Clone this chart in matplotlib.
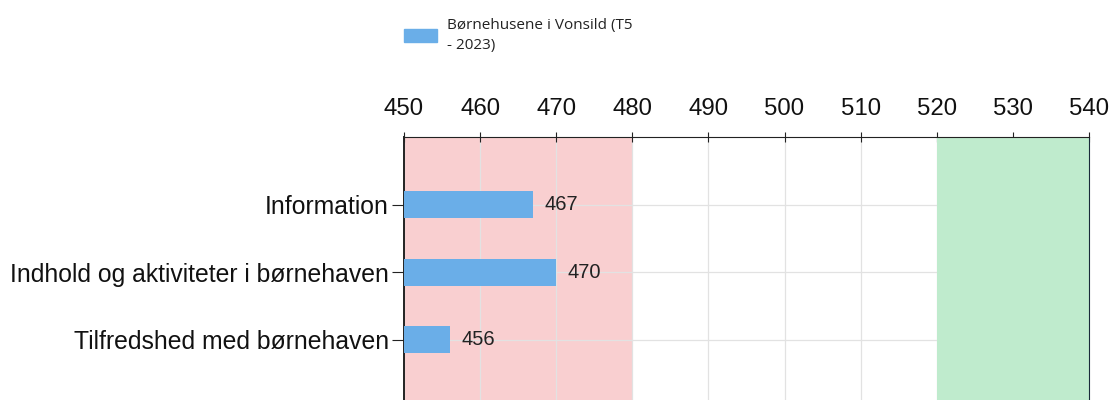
import numpy as np
import matplotlib.pyplot as plt
from matplotlib.patches import Patch

categories = ["Information", "Indhold og aktiviteter i børnehaven", "Tilfredshed med børnehaven"]
values = [467, 470, 456]
series_name = "Børnehusene i Vonsild (T5\n- 2023)"
x_ticks = [450, 460, 470, 480, 490, 500, 510, 520, 530, 540]
red_band = (450, 480)
green_band = (520, 540)

bar_color = "#6aaee8"
plt.rcParams['font.family'] = ['Liberation Sans', 'DejaVu Sans']

fig = plt.figure(figsize=(11.13, 4.0), dpi=100)
ax = fig.add_axes([404 / 1113, 0, (1089 - 404) / 1113, 1 - 137 / 400])

ax.axvspan(*red_band, color="#f9cfd0", zorder=0, lw=0)
ax.axvspan(*green_band, color="#bfebcd", zorder=2, lw=0)

pos = np.arange(len(categories))
ax.barh(pos, [v - x_ticks[0] for v in values], left=x_ticks[0], height=0.4,
        color=bar_color, zorder=3)
for p, v in zip(pos, values):
    ax.text(v + 1.5, p, str(v), va="center", ha="left", fontsize=14.5,
            color="#222222", zorder=4)

ax.set_xlim(x_ticks[0], x_ticks[-1])
ax.set_ylim(2.89, -1.0)
ax.set_xticks(x_ticks)
ax.set_yticks(pos)
ax.set_yticklabels(categories, fontsize=17.8, color="#111111")
ax.xaxis.tick_top()
ax.tick_params(axis="x", labelsize=17.3, direction="inout", length=7, pad=9,
               color="#222222", labelcolor="#111111")
ax.tick_params(axis="y", length=9, pad=2, color="#222222")

ax.grid(True, color="#e2e2e2", lw=0.9, zorder=1)
for line in ax.get_xgridlines() + ax.get_ygridlines():
    line.set_zorder(1)
ax.spines["bottom"].set_visible(False)
ax.spines["top"].set_color("#222222")
ax.spines["left"].set_color("#222222")
ax.spines["left"].set_linewidth(1.4)
ax.spines["right"].set_color("#1a2a3a")

leg = fig.legend(handles=[Patch(color=bar_color, label=series_name)],
                 loc="upper left", bbox_to_anchor=(390 / 1113, 1 - 4 / 400),
                 frameon=False, handlelength=2.15, handleheight=0.85,
                 handletextpad=0.65,
                 prop={'family': ['Open Sans', 'DejaVu Sans'], 'size': 11})
leg.get_texts()[0].set_linespacing(1.45)
leg.get_texts()[0].set_color("#222222")

fig.savefig("out.png", dpi=100)
